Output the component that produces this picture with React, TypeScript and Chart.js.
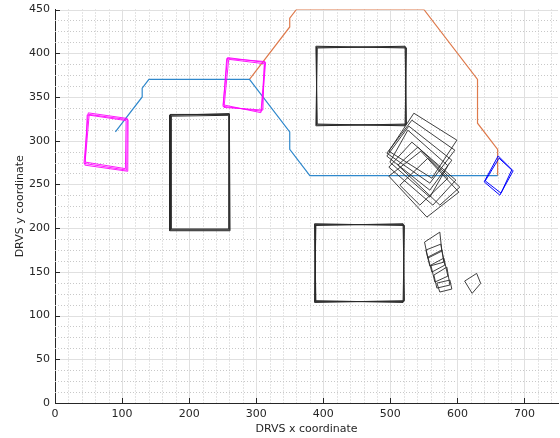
import React, { useEffect, useRef } from 'react';
import { Chart, registerables } from 'chart.js';

Chart.register(...registerables);

type Pt = [number, number];

// Tracks
const blueTrackX = [90, 130, 130, 140, 290, 350, 350, 380, 660];
const blueTrackY = [310, 350, 360, 370, 370, 310, 290, 260, 260];
const orangeTrackX = [290, 350, 350, 360, 550, 630, 630, 660, 660];
const orangeTrackY = [370, 430, 440, 450, 450, 370, 320, 290, 260];

// Axis ticks
const xMajorTicks = [0, 100, 200, 300, 400, 500, 600, 700];
const yMajorTicks = [0, 50, 100, 150, 200, 250, 300, 350, 400, 450];
const xMinorStep = 20;
const yMinorStep = 12.5;

// Magenta squares (overlapping copies)
const magentaQuads: Pt[][] = [
  [[49.6, 331.8], [107.8, 325.4], [106.9, 266.3], [43.2, 274]],
  [[51, 330], [109, 324], [108.5, 265], [44.5, 272]],
  [[48, 329.5], [106, 323], [105, 268], [45, 275.5]],
  [[257.3, 395], [314, 389.4], [308, 333.7], [250.4, 339.3]],
  [[259, 393], [312, 388], [310, 335], [252, 338]],
  [[256, 394], [313, 390.5], [307, 332], [251, 341]],
];

// Blue diamond
const blueQuads: Pt[][] = [
  [[660.8, 282.6], [683.1, 265.5], [663.3, 237.7], [639.9, 252.9]],
  [[662, 280], [681, 266.5], [665, 240], [641.5, 254]],
];

// Large black rectangles (overlapping copies)
const blackRects: Pt[][] = [
  [[172, 198], [260, 198], [260, 330], [172, 330]],
  [[171, 197], [261, 197], [260, 331], [171, 329]],
  [[173, 199], [259, 199], [259, 329], [173, 328]],
  [[390, 318], [523, 318], [523, 407], [390, 407]],
  [[389, 317], [524, 319], [522, 408], [391, 406]],
  [[391, 319], [522, 317], [524, 406], [389, 408]],
  [[388, 116], [520, 116], [520, 204], [388, 204]],
  [[387, 115], [521, 117], [519, 205], [389, 203]],
  [[389, 117], [519, 115], [521, 203], [387, 205]],
];

// Rotated black rectangles cluster
const blackRotated: Pt[][] = [
  [[535.1, 331.4], [599.2, 300.6], [561.9, 257.1], [497.8, 288.0]],
  [[532.1, 323.4], [596.2, 289.1], [558.9, 251.4], [494.8, 285.7]],
  [[527.6, 316.6], [591.7, 277.7], [558.9, 243.4], [494.8, 282.3]],
  [[541.0, 292.6], [603.6, 246.9], [573.8, 226.3], [511.2, 272.0]],
  [[532.1, 298.3], [597.7, 254.9], [563.4, 226.3], [497.8, 269.7]],
  [[545.5, 288.0], [602.2, 241.1], [554.5, 212.6], [497.8, 259.4]],
  [[556.0, 280.0], [585.8, 257.1], [544.0, 226.3], [514.2, 249.1]],
  [[526.1, 312.0], [585.8, 271.4], [558.9, 235.4], [499.3, 275.4]],
];

// Small black quads
const blackSmall: Pt[][] = [
  [[551.0, 184.0], [573.8, 195.4], [576.8, 173.7], [556.0, 165.7]],
  [[556.0, 166.9], [576.8, 174.9], [581.3, 157.7], [561.9, 149.7]],
  [[560.4, 157.7], [579.8, 165.7], [585.8, 145.1], [566.4, 138.3]],
  [[564.9, 146.3], [584.3, 155.4], [588.8, 134.9], [569.4, 131.4]],
  [[569.4, 137.1], [588.8, 140.6], [591.7, 130.3], [573.8, 126.9]],
  [[553.0, 174.9], [575.3, 181.7], [579.8, 161.1], [558.9, 156.6]],
  [[610.8, 139.4], [628.7, 148.2], [634.7, 136.8], [622.0, 125.4]],
];

const AXIS_COLOR = '#262626';

function polyDataset(q: Pt[], color: string, width: number) {
  const pts = q.map(([x, y]) => ({ x, y }));
  pts.push({ x: q[0][0], y: q[0][1] });
  return {
    data: pts,
    showLine: true,
    borderColor: color,
    borderWidth: width,
    pointRadius: 0,
    pointHoverRadius: 0,
    fill: false,
    tension: 0,
  };
}

function trackDataset(xs: number[], ys: number[], color: string) {
  return {
    data: xs.map((x, i) => ({ x, y: ys[i] })),
    showLine: true,
    borderColor: color,
    borderWidth: 1.2,
    pointRadius: 0,
    pointHoverRadius: 0,
    fill: false,
    tension: 0,
  };
}

const gridPlugin = {
  id: 'matlabGrid',
  beforeDatasetsDraw(chart: any) {
    const { ctx, chartArea, scales } = chart;
    const { left, right, top, bottom } = chartArea;
    const xs = scales.x;
    const ys = scales.y;
    ctx.save();
    ctx.lineWidth = 1;
    // minor dotted grid
    ctx.strokeStyle = '#c8c8c8';
    ctx.setLineDash([1, 2]);
    for (let v = xMinorStep; v < 750; v += xMinorStep) {
      if (v % 100 === 0) continue;
      const p = Math.round(xs.getPixelForValue(v)) + 0.5;
      ctx.beginPath();
      ctx.moveTo(p, top);
      ctx.lineTo(p, bottom);
      ctx.stroke();
    }
    for (let v = yMinorStep; v < 450; v += yMinorStep) {
      if (v % 50 === 0) continue;
      const p = Math.round(ys.getPixelForValue(v)) + 0.5;
      ctx.beginPath();
      ctx.moveTo(left, p);
      ctx.lineTo(right, p);
      ctx.stroke();
    }
    // major grid
    ctx.setLineDash([]);
    ctx.strokeStyle = '#e0e0e0';
    xMajorTicks.forEach((v) => {
      if (v === 0) return;
      const p = Math.round(xs.getPixelForValue(v)) + 0.5;
      ctx.beginPath();
      ctx.moveTo(p, top);
      ctx.lineTo(p, bottom);
      ctx.stroke();
    });
    yMajorTicks.forEach((v) => {
      if (v === 0) return;
      const p = Math.round(ys.getPixelForValue(v)) + 0.5;
      ctx.beginPath();
      ctx.moveTo(left, p);
      ctx.lineTo(right, p);
      ctx.stroke();
    });
    ctx.restore();
  },
  afterDatasetsDraw(chart: any) {
    const { ctx, chartArea, scales } = chart;
    const { left, bottom } = chartArea;
    const xs = scales.x;
    const ys = scales.y;
    ctx.save();
    ctx.strokeStyle = AXIS_COLOR;
    ctx.lineWidth = 1;
    xMajorTicks.forEach((v) => {
      const p = Math.round(xs.getPixelForValue(v)) + 0.5;
      ctx.beginPath();
      ctx.moveTo(p, bottom);
      ctx.lineTo(p, bottom - 5);
      ctx.stroke();
    });
    yMajorTicks.forEach((v) => {
      const p = Math.round(ys.getPixelForValue(v)) + 0.5;
      ctx.beginPath();
      ctx.moveTo(left, p);
      ctx.lineTo(left + 5, p);
      ctx.stroke();
    });
    ctx.restore();
  },
};

export default function App() {
  const ref = useRef<HTMLCanvasElement>(null);

  useEffect(() => {
    document.body.style.margin = '0';
    Chart.defaults.font.family = '"DejaVu Sans", sans-serif';
    Chart.defaults.font.size = 11;
    Chart.defaults.color = AXIS_COLOR;

    const datasets: any[] = [
      ...blackRects.map((q) => polyDataset(q, '#2a2a2a', 1)),
      ...blackRotated.map((q) => polyDataset(q, '#2a2a2a', 0.9)),
      ...blackSmall.map((q) => polyDataset(q, '#2a2a2a', 0.9)),
      ...magentaQuads.map((q) => polyDataset(q, '#ff00ff', 0.9)),
      ...blueQuads.map((q) => polyDataset(q, '#0000ff', 1)),
      trackDataset(blueTrackX, blueTrackY, '#2f88cc'),
      trackDataset(orangeTrackX, orangeTrackY, '#de7a4c'),
    ];

    const chart = new Chart(ref.current!, {
      type: 'scatter',
      data: { datasets },
      options: {
        responsive: false,
        animation: false,
        events: [],
        layout: { padding: { top: 9.5, right: 2, left: 0, bottom: 0 } },
        plugins: {
          legend: { display: false },
          tooltip: { enabled: false },
        },
        scales: {
          x: {
            type: 'linear',
            min: 0,
            max: 750,
            afterFit: (s: any) => {
              s.height = 35;
              s.paddingLeft = 0;
              s.paddingRight = 0;
            },
            ticks: {
              stepSize: 100,
              includeBounds: false,
              autoSkip: false,
              maxRotation: 0,
              padding: 5,
              color: AXIS_COLOR,
              font: { size: 11 },
              callback: (v: any) => String(v),
            },
            grid: { display: false, drawTicks: false },
            border: { display: true, color: AXIS_COLOR, width: 1 },
            title: {
              display: true,
              text: 'DRVS x coordinate',
              color: AXIS_COLOR,
              font: { size: 11 },
              padding: { top: 0, bottom: 2.4 },
            },
          },
          y: {
            type: 'linear',
            min: 0,
            max: 450,
            afterFit: (s: any) => {
              s.width = 55;
              s.paddingTop = 0;
              s.paddingBottom = 0;
            },
            ticks: {
              stepSize: 50,
              autoSkip: false,
              padding: 5,
              color: AXIS_COLOR,
              font: { size: 11 },
              callback: (v: any) => String(v),
            },
            grid: { display: false, drawTicks: false },
            border: { display: true, color: AXIS_COLOR, width: 1 },
            title: {
              display: true,
              text: 'DRVS y coordinate',
              color: AXIS_COLOR,
              font: { size: 11 },
              padding: { top: 14, bottom: 0 },
            },
          },
        },
      } as any,
      plugins: [gridPlugin],
    });
    return () => chart.destroy();
  }, []);

  return (
    <div style={{ width: 560, height: 438 }}>
      <canvas ref={ref} width={560} height={438} style={{ display: 'block' }} />
    </div>
  );
}
